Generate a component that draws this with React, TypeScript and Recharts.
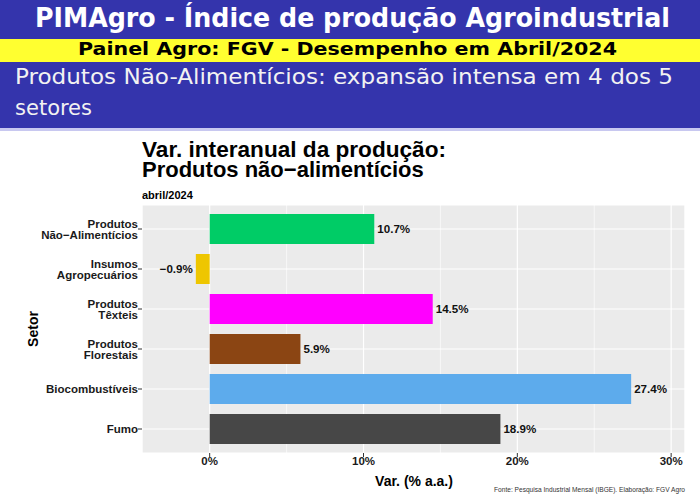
import React from "react";
import {
  BarChart,
  Bar,
  XAxis,
  YAxis,
  CartesianGrid,
  Cell,
  LabelList,
} from "recharts";

const sectors = [
  "Produtos\nNão\u2212Alimentícios",
  "Insumos\nAgropecuários",
  "Produtos\nTêxteis",
  "Produtos\nFlorestais",
  "Biocombustíveis",
  "Fumo",
];
const values = [10.7, -0.9, 14.5, 5.9, 27.4, 18.9];
const colors = ["#00CC66", "#EEC600", "#FF00FF", "#8B4513", "#5DABEC", "#474747"];
const majorTicks = [0, 10, 20, 30];
const minorTicks = [5, 15, 25];
const xDomain = [-4.4, 30.9];

const data = sectors.map((s, i) => ({ setor: s, valor: values[i] }));

const FONT = '"Liberation Sans", Arial, sans-serif';

function fmt(v: number) {
  return `${v < 0 ? "\u2212" : ""}${Math.abs(v).toFixed(1)}%`;
}

const SectorTick = (props: any) => {
  const { x, y, payload } = props;
  const lines = String(payload.value).split("\n");
  const lh = 11.5;
  return (
    <text x={x} y={y} textAnchor="end" fontFamily={FONT} fontWeight="bold" fontSize={11.5} fill="#1a1a1a">
      {lines.map((l, i) => (
        <tspan key={i} x={x} y={y + 4.3 + (i - (lines.length - 1) / 2) * lh}>
          {l}
        </tspan>
      ))}
    </text>
  );
};

const ValueLabel = (props: any) => {
  const { x, y, width, height, value } = props;
  const v = Number(value);
  const left = Math.min(x, x + width);
  const right = Math.max(x, x + width);
  const pos = v >= 0;
  return (
    <text
      x={pos ? right + 3 : left - 3}
      y={y + height / 2 + 4}
      textAnchor={pos ? "start" : "end"}
      fontFamily={FONT}
      fontWeight="bold"
      fontSize={11.6}
      fill="#111"
    >
      {fmt(v)}
    </text>
  );
};

export default function App() {
  return (
    <div style={{ position: "absolute", left: 0, top: 0, width: 700, height: 500, background: "#fff", overflow: "hidden" }}>
      <svg width={700} height={500} style={{ position: "absolute", left: 0, top: 0 }}>
        <rect x={0} y={0} width={700} height={39} fill="#3434AC" />
        <rect x={0} y={39} width={700} height={23} fill="#FFFF30" />
        <rect x={0} y={62} width={700} height={66} fill="#3434AC" />
        <rect x={0} y={128} width={700} height={3} fill="#C8C8F0" />
        <text x={35} y={27} fill="#fff" fontFamily='"DejaVu Sans Condensed", "DejaVu Sans"' fontWeight="bold" fontSize={26} textLength={635} lengthAdjust="spacingAndGlyphs">
          PIMAgro - Índice de produção Agroindustrial
        </text>
        <text x={78} y={55} fill="#000" fontFamily='"DejaVu Sans"' fontWeight="bold" fontSize={18} textLength={539} lengthAdjust="spacingAndGlyphs">
          Painel Agro: FGV - Desempenho em Abril/2024
        </text>
        <text x={15} y={84} fill="#F2F2F2" fontFamily='"DejaVu Sans Condensed", "DejaVu Sans"' fontSize={22} textLength={658} lengthAdjust="spacingAndGlyphs">
          Produtos Não-Alimentícios: expansão intensa em 4 dos 5
        </text>
        <text x={15} y={115} fill="#F2F2F2" fontFamily='"DejaVu Sans Condensed", "DejaVu Sans"' fontSize={22} textLength={77} lengthAdjust="spacingAndGlyphs">
          setores
        </text>

        <text x={142} y={157} fill="#000" fontFamily={FONT} fontWeight="bold" fontSize={22} textLength={304} lengthAdjust="spacingAndGlyphs">
          Var. interanual da produção:
        </text>
        <text x={142} y={176.5} fill="#000" fontFamily={FONT} fontWeight="bold" fontSize={22}>
          Produtos não{"\u2212"}alimentícios
        </text>
        <text x={142} y={198.5} fill="#000" fontFamily={FONT} fontWeight="bold" fontSize={11}>
          abril/2024
        </text>
        <text x={414} y={486} textAnchor="middle" fill="#000" fontFamily={FONT} fontWeight="bold" fontSize={14}>
          Var. (% a.a.)
        </text>
        <text
          x={38}
          y={329}
          transform="rotate(-90 38 329)"
          textAnchor="middle"
          fill="#000"
          fontFamily={FONT}
          fontWeight="bold"
          fontSize={14}
        >
          Setor
        </text>
        <text x={685} y={492} textAnchor="end" fill="#333" fontFamily={FONT} fontSize={6.6}>
          Fonte: Pesquisa Industrial Mensal (IBGE). Elaboração: FGV Agro
        </text>
      </svg>

      <div style={{ position: "absolute", left: 0, top: 130 }}>
        <BarChart
          width={700}
          height={370}
          data={data}
          layout="vertical"
          margin={{ top: 75, right: 15, bottom: 17, left: 12 }}
          barCategoryGap={0}
        >
          <XAxis xAxisId="minor" type="number" domain={xDomain} ticks={minorTicks} hide allowDataOverflow />
          <CartesianGrid xAxisId="minor" horizontal={false} stroke="#fff" strokeWidth={0.6} fill="#EBEBEB" />
          <CartesianGrid stroke="#fff" strokeWidth={1.2} />
          <XAxis
            type="number"
            domain={xDomain}
            ticks={majorTicks}
            allowDataOverflow
            height={30}
            tickSize={4}
            tickMargin={0}
            axisLine={false}
            tickLine={{ stroke: "#333" }}
            tickFormatter={(v) => `${v}%`}
            tick={{ fontFamily: FONT, fontWeight: "bold", fontSize: 11.5, fill: "#1a1a1a" }}
          />
          <YAxis
            type="category"
            dataKey="setor"
            width={130}
            axisLine={false}
            tickSize={4}
            tickMargin={0}
            tickLine={{ stroke: "#333" }}
            padding={{ top: 4, bottom: 4 }}
            tick={<SectorTick />}
            interval={0}
          />
          <Bar dataKey="valor" barSize={30} isAnimationActive={false}>
            {data.map((d, i) => (
              <Cell key={d.setor} fill={colors[i]} />
            ))}
            <LabelList dataKey="valor" content={<ValueLabel />} />
          </Bar>
        </BarChart>
      </div>
    </div>
  );
}
